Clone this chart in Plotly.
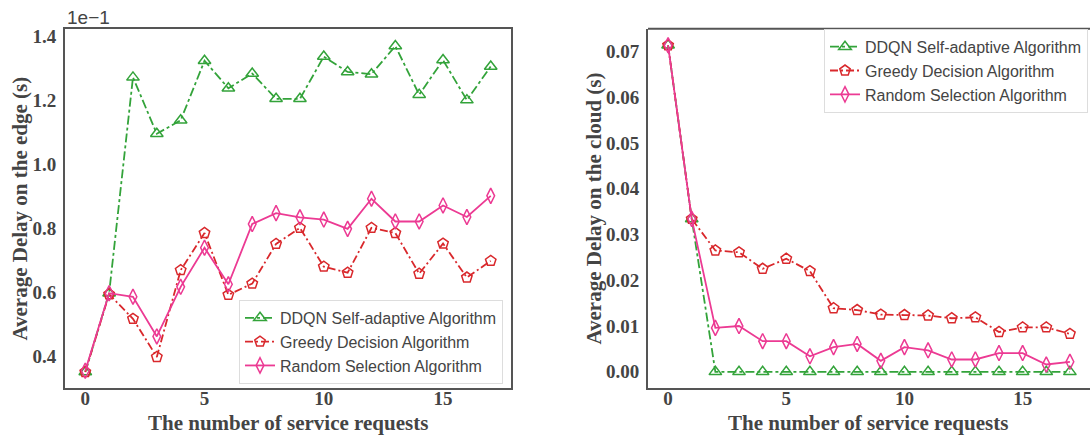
import plotly.graph_objects as go

requests = list(range(18))

# Left panel: average delay on the edge (shown in units of 1e-1 s)
edge_ddqn = [0.351, 0.597, 1.271, 1.095, 1.137, 1.323, 1.237, 1.283, 1.204, 1.204,
             1.336, 1.288, 1.281, 1.369, 1.217, 1.325, 1.200, 1.305]
edge_greedy = [0.351, 0.594, 0.517, 0.398, 0.669, 0.785, 0.592, 0.627, 0.751, 0.801,
               0.680, 0.661, 0.801, 0.785, 0.658, 0.752, 0.646, 0.698]
edge_random = [0.355, 0.597, 0.586, 0.462, 0.617, 0.739, 0.625, 0.813, 0.847, 0.834,
               0.827, 0.798, 0.892, 0.821, 0.821, 0.871, 0.835, 0.901]

# Right panel: average delay on the cloud (s)
cloud_ddqn = [0.0713, 0.0334] + [0.0] * 16
cloud_greedy = [0.0713, 0.0334, 0.0265, 0.0261, 0.0225, 0.0247, 0.0220, 0.0139, 0.0135,
                0.0125, 0.0124, 0.0123, 0.0117, 0.0119, 0.0087, 0.0097, 0.0097, 0.0083]
cloud_random = [0.0713, 0.0334, 0.0096, 0.0100, 0.0067, 0.0067, 0.0034, 0.0054, 0.0061,
                0.0024, 0.0054, 0.0047, 0.0027, 0.0027, 0.0041, 0.0041, 0.0016, 0.0022]

series_names = ["DDQN Self-adaptive Algorithm", "Greedy Decision Algorithm",
                "Random Selection Algorithm"]
edge_ticks = [0.4, 0.6, 0.8, 1.0, 1.2, 1.4]
cloud_ticks = [0.0, 0.01, 0.02, 0.03, 0.04, 0.05, 0.06, 0.07]
x_ticks = [0, 5, 10, 15]

colors = ["#33a33a", "#d9282c", "#ec3a93"]
symbols = ["triangle-up-open", "pentagon-open", "diamond-tall-open"]
dashes = ["dashdot", "8px,3px,2px,3px", "solid"]
msizes = [11, 11, 11]

fig = go.Figure()

def add(x, y, i, xa, ya, leg):
    fig.add_trace(go.Scatter(
        x=x, y=y, name=series_names[i], mode="lines+markers",
        xaxis=xa, yaxis=ya, legend=leg,
        line=dict(color=colors[i], width=1.8, dash=dashes[i]),
        marker=dict(symbol=symbols[i], size=msizes[i], color=colors[i],
                    line=dict(color=colors[i], width=1.5)),
    ))

for i, ys in enumerate([edge_ddqn, edge_greedy, edge_random]):
    add(requests, ys, i, "x", "y", "legend")
for i, ys in enumerate([cloud_ddqn, cloud_greedy, cloud_random]):
    add(requests, ys, i, "x2", "y2", "legend2")

W, H = 1090, 436
tickfont = dict(family="Liberation Serif", size=19, color="#444444", weight="bold")
titlefont = dict(family="Liberation Serif", size=21, color="#444444")
legfont = dict(family="Liberation Sans", size=16, color="#444444")
ydom = [1 - 388 / H, 1 - 26 / H]

axis_common = dict(showgrid=False, zeroline=False, showline=True, linecolor="#555555",
                   linewidth=2, ticks="", tickfont=tickfont)

fig.update_layout(
    width=W, height=H, paper_bgcolor="white", plot_bgcolor="white",
    margin=dict(l=0, r=0, t=0, b=0), showlegend=True,
    xaxis=dict(domain=[65 / W, 511 / W], range=[-0.85, 17.85], tickvals=x_ticks,
               mirror=True, anchor="y", ticklabelstandoff=-8, **axis_common),
    yaxis=dict(domain=ydom, range=[0.3, 1.4226], tickvals=edge_ticks, tickformat=".1f",
               mirror=True, anchor="x", ticklabelstandoff=3, **axis_common),
    xaxis2=dict(domain=[648 / W, 1.0], range=[-0.85, 17.85], tickvals=x_ticks,
                mirror=False, anchor="y2", ticklabelstandoff=-8, **axis_common),
    yaxis2=dict(domain=ydom, range=[-0.0036, 0.0749], tickvals=cloud_ticks,
                tickformat=".2f", mirror=False, anchor="x2", ticklabelstandoff=3,
                **axis_common),
    legend=dict(x=503 / W, y=1 - 299 / H, xanchor="right", yanchor="top",
                bgcolor="white", bordercolor="#dddddd", borderwidth=1, font=legfont,
                tracegroupgap=0),
    legend2=dict(x=1088 / W, y=1 - 26 / H, xanchor="right", yanchor="top",
                 bgcolor="white", bordercolor="#dddddd", borderwidth=1, font=legfont,
                 tracegroupgap=0),
)

# top border of right panel (no right border visible in reference)
fig.add_shape(type="line", xref="x2 domain", yref="y2 domain", x0=0, x1=1, y0=1, y1=1,
              line=dict(color="#555555", width=2))

annotations = [
    dict(text="1e\u22121", x=65 / W, y=1 - 15 / H, xref="paper", yref="paper",
         xanchor="left", yanchor="middle", showarrow=False,
         font=dict(family="Liberation Sans", size=19, color="#444444")),
    dict(text="<b>The number of service requests</b>", x=288 / W, y=1 - 423 / H,
         xref="paper", yref="paper", xanchor="center", yanchor="middle",
         showarrow=False, font=titlefont),
    dict(text="<b>The number of service requests</b>", x=868 / W, y=1 - 423 / H,
         xref="paper", yref="paper", xanchor="center", yanchor="middle",
         showarrow=False, font=titlefont),
    dict(text="<b>Average Delay on the edge (s)</b>", x=20 / W, y=1 - 207 / H,
         xref="paper", yref="paper", xanchor="center", yanchor="middle",
         showarrow=False, textangle=-90, font=titlefont),
    dict(text="<b>Average Delay on the cloud (s)</b>", x=594 / W, y=1 - 207 / H,
         xref="paper", yref="paper", xanchor="center", yanchor="middle",
         showarrow=False, textangle=-90, font=titlefont),
]
fig.update_layout(annotations=annotations)

fig.write_html("out.html", config={"displayModeBar": False},
               post_script="document.body.style.margin='0';document.body.style.overflow='hidden';")
